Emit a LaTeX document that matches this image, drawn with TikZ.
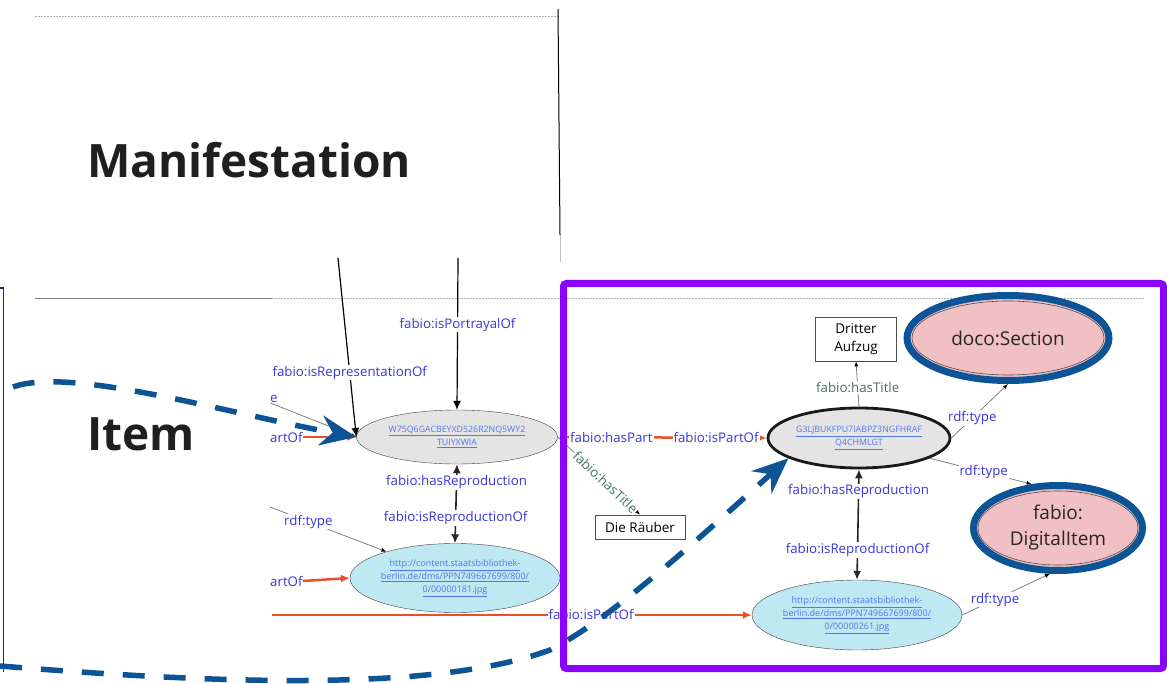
\documentclass[tikz,border=0pt]{standalone}
\usepackage{fontspec}
\setmainfont{Open Sans}
\usetikzlibrary{arrows.meta,calc,shapes.geometric}
\definecolor{LblBlue}{RGB}{55,55,215}
\definecolor{TitleGreen}{RGB}{70,115,95}
\definecolor{RelRed}{RGB}{232,80,45}
\definecolor{HintBlue}{RGB}{12,84,150}
\definecolor{BoxViolet}{RGB}{140,0,255}
\definecolor{NodeGray}{RGB}{228,228,228}
\definecolor{ImgCyan}{RGB}{190,232,242}
\definecolor{ClassPink}{RGB}{240,192,196}
\definecolor{LinkBlue}{RGB}{80,120,235}
\definecolor{FrameNavy}{RGB}{20,50,90}

\begin{document}
\begin{tikzpicture}[x=1pt,y=-1pt,>={Latex[length=9pt,width=8pt]},
  lbl/.style={fill=white,text=LblBlue,inner sep=1pt,font=\fontsize{13.3}{15}\selectfont},
  ttl/.style={lbl,text=TitleGreen},
  cut/.style={lbl,anchor=west,inner sep=0pt},
  idell/.style={ellipse,draw=black!75,fill=NodeGray,inner sep=0pt,align=center,text=LinkBlue,font=\fontsize{8.8}{13}\selectfont},
  imgell/.style={ellipse,draw=black!75,fill=ImgCyan,inner sep=0pt,align=center,text=LinkBlue,font=\fontsize{9}{13}\selectfont},
  clsell/.style={ellipse,draw=HintBlue,line width=7pt,fill=ClassPink,inner sep=0pt,align=center,text=black!85,font=\fontsize{19}{26}\selectfont},
  lit/.style={draw=black!70,line width=.8pt,inner sep=0pt,align=center,font=\fontsize{13.5}{18}\selectfont},
  rel/.style={RelRed,line width=2.5pt},
  repro/.style={black!85,line width=1.6pt,<->},
  typeln/.style={gray,line width=.8pt,-{Latex[length=5pt,width=4pt,black]}},
  hint/.style={HintBlue,line width=5.5pt,dash pattern=on 22pt off 19pt,-{Stealth[length=36pt,width=30pt,inset=12pt]}},
  sepline/.style={gray!60,line width=.8pt,dash pattern=on 1.5pt off 1.5pt}]
\useasboundingbox (0,0) rectangle (1167,684);

\draw[sepline] (35,16) -- (559,16);
\draw[black,line width=1pt] (558,9) -- (560,235);
\draw[gray!50,line width=1pt] (560,235) -- (560,262);
\draw[gray,line width=.8pt] (35,298) -- (272,298);
\draw[sepline] (272,298) -- (1145,298);
\draw[FrameNavy,line width=1.6pt] (0,288) -- (3.5,288) -- (3.5,672);

\node[font=\fontsize{46}{50}\selectfont\bfseries,text=black!88] (manif) at (249,160) {Manifestation};
\node[font=\fontsize{46}{50}\selectfont\bfseries,text=black!88] (item) at (141,434) {Item};

\node[idell,minimum width=201,minimum height=54] (repA) at (457,437) {\underline{W75Q6GACBEYXD526R2NQ5WY2}\\\underline{TUIYXWIA}};
\node[imgell,minimum width=210,minimum height=69] (repAimg) at (455,578) {\underline{http://content.staatsbibliothek-}\\\underline{berlin.de/dms/PPN749667699/800/}\\\underline{0/00000181.jpg}};
\node[idell,draw=black!90,line width=2.8pt,minimum width=182,minimum height=60] (repB) at (859,438) {\underline{G3LJBUKFPU7IABPZ3NGFHRAF}\\\underline{Q4CHMLGT}};
\node[imgell,minimum width=210,minimum height=70] (repBimg) at (857,615) {\underline{http://content.staatsbibliothek-}\\\underline{berlin.de/dms/PPN749667699/800/}\\\underline{0/00000261.jpg}};
\node[lit,minimum width=81,minimum height=44] (dritter) at (856,339) {Dritter\\Aufzug};
\node[lit,minimum width=90,minimum height=24] (raeuber) at (640,527) {Die Räuber};
\node[clsell,minimum width=202,minimum height=85] (section) at (1008,338) {doco:Section};
\node[clsell,minimum width=169,minimum height=85] (digital) at (1058,528) {fabio:\\DigitalItem};
\draw[black!70,line width=.6pt] (section.center) ellipse [x radius=96,y radius=37];
\draw[black!70,line width=.6pt] (digital.center) ellipse [x radius=80,y radius=37];

\coordinate (topR) at (338,258);
\coordinate (topP) at (458,258);
\coordinate (cutT) at (270,507);
\coordinate (cutL) at (272,615);
\node[cut] (cutE) at (270,399) {e};
\node[cut] (cutA) at (270,437) {artOf};
\node[cut] (cutB) at (270,581) {artOf};

\draw[black,line width=1.2pt,->] (topR) -- node[lbl,pos=.64]{fabio:isRepresentationOf} (repA.west);
\draw[black,line width=1.2pt,->] (topP) -- node[lbl,pos=.44]{fabio:isPortrayalOf} (repA.north);
\draw[typeln] (cutE.south west) -- (repA.west);
\draw[rel,->] (cutA.east) -- (repA.west);
\draw[repro] (repA.south) -- node[lbl,pos=.23]{fabio:hasReproduction} node[lbl,pos=.68]{fabio:isReproductionOf} (repAimg.north);
\draw[typeln] (cutT) -- node[lbl,pos=.33]{rdf:type} (repAimg);
\draw[rel,->] (cutB.east) -- (repAimg.west);
\draw[rel,->] (cutL) -- node[lbl,pos=.665]{fabio:isPartOf} (repBimg.west);
\draw[rel,<->,shorten <=7pt] (repA.east) -- node[lbl,pos=.257]{fabio:hasPart} node[lbl,pos=.758]{fabio:isPartOf} (repB.west);
\draw[typeln] (repA.east) -- node[ttl,sloped,pos=.58]{fabio:hasTitle} (raeuber.north);
\draw[typeln] (repB.north) -- node[ttl,pos=.42]{fabio:hasTitle} (dritter.south);
\draw[typeln] (repB.east) -- node[lbl,pos=.37]{rdf:type} (section.south);
\draw[typeln] (repB.-16) -- node[lbl,pos=.53]{rdf:type} (digital.121);
\draw[repro] (repB.south) -- node[lbl,pos=.2]{fabio:hasReproduction} node[lbl,pos=.73]{fabio:isReproductionOf} (repBimg.north);
\draw[typeln] (repBimg.east) -- node[lbl,pos=.375]{rdf:type} (digital.-100);

\draw[BoxViolet,line width=7pt,rounded corners=3pt] (563.5,283.5) rectangle (1163.5,668.5);

\coordinate (hintA) at (13,387);
\coordinate (hintB) at (0,666);
\draw[hint] (hintA) .. controls (70,366) and (230,414) .. (repA.west);
\draw[hint] (hintB) .. controls (200,682) and (430,694) .. (550,650) .. controls (610,620) and (705,533) .. (repB.196);

\end{tikzpicture}
\end{document}
